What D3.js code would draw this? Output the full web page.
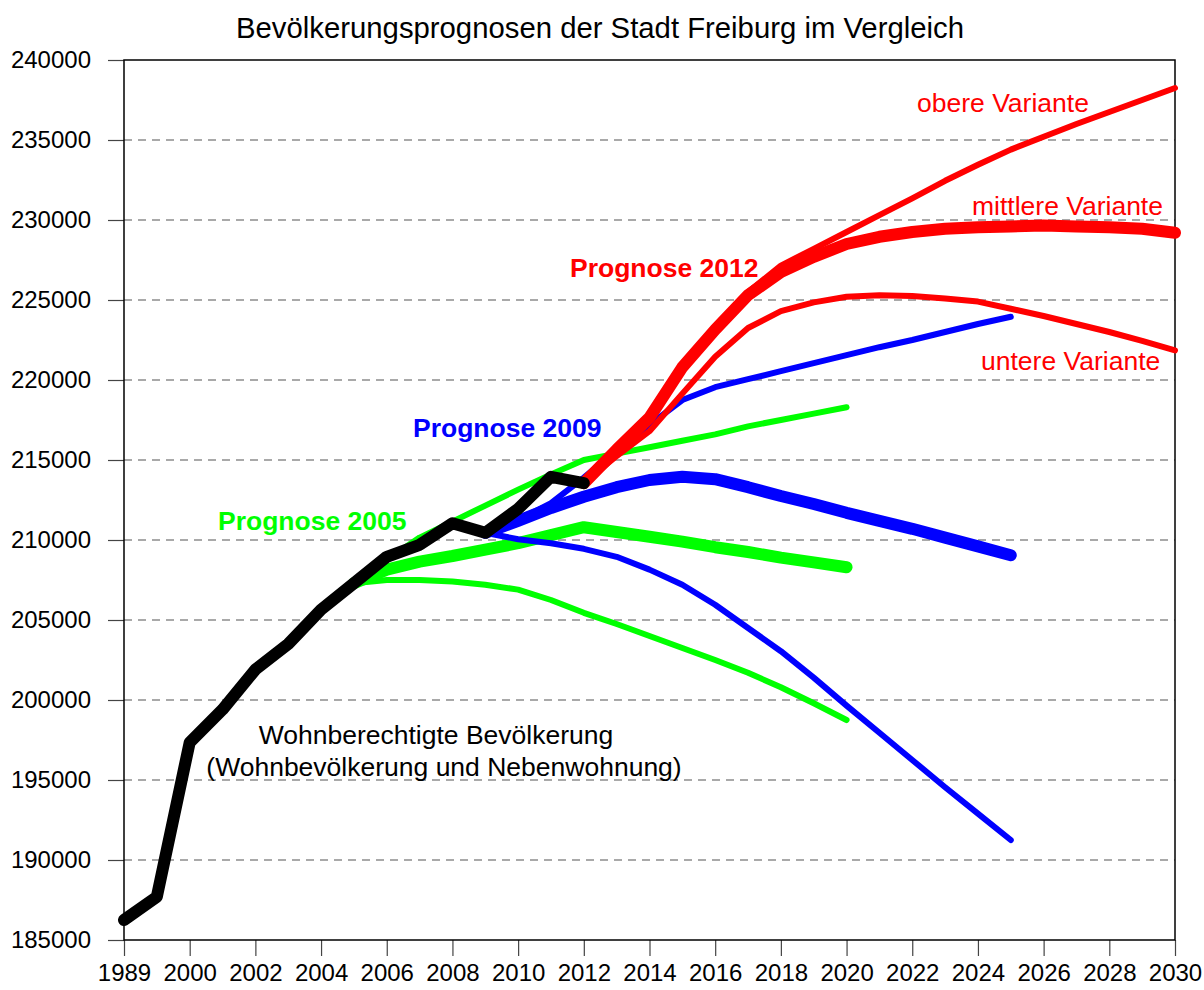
<!DOCTYPE html>
<html>
<head>
<meta charset="utf-8">
<script src="https://cdn.jsdelivr.net/npm/d3@7"></script>
<style>
  body { margin: 0; background: #fff; }
  svg { display: block; font-family: "Liberation Sans", Arial, sans-serif; }
  .grid line { stroke: #555; stroke-width: 1.2; stroke-dasharray: 8 6; }
  .axis text { font-size: 24px; fill: #000; }
  .axis path { display: none; }
  .axis line { stroke: #444; stroke-width: 1.2; }
</style>
</head>
<body>
<div class="chart"></div>
<script>
// Categories on the x axis (1999 is squeezed in right after 1989).
const years = ["1989", "1999", "2000", "2001", "2002", "2003", "2004", "2005", "2006",
  "2007", "2008", "2009", "2010", "2011", "2012", "2013", "2014", "2015", "2016",
  "2017", "2018", "2019", "2020", "2021", "2022", "2023", "2024", "2025", "2026",
  "2027", "2028", "2029", "2030"];
const tickYears = ["1989", "2000", "2002", "2004", "2006", "2008", "2010", "2012", "2014",
  "2016", "2018", "2020", "2022", "2024", "2026", "2028", "2030"];
const yTicks = [185000, 190000, 195000, 200000, 205000, 210000, 215000, 220000,
  225000, 230000, 235000, 240000];

// Wohnberechtigte Bevölkerung, 1989, 1999, 2000 ... 2012
const actual = [186250, 187700, 197350, 199400, 201900, 203500, 205650, 207300, 208950,
  209700, 211050, 210450, 211950, 213950, 213550];

// Prognose 2005, 2005 ... 2020
const p05Upper = [207300, 208750, 210150, 211150, 212150, 213150, 214100, 215000, 215400,
  215800, 216200, 216600, 217100, 217500, 217900, 218300];
const p05Mid = [207300, 208150, 208650, 209000, 209400, 209800, 210300, 210800, 210500,
  210200, 209900, 209550, 209250, 208900, 208600, 208300];
const p05Low = [207300, 207500, 207500, 207400, 207200, 206900, 206250, 205450, 204750,
  204000, 203250, 202500, 201700, 200800, 199800, 198750];

// Prognose 2009, 2009 ... 2025
const p09Upper = [210450, 211250, 212300, 213900, 215600, 217200, 218750, 219550, 220050,
  220550, 221050, 221550, 222050, 222500, 223000, 223500, 223950];
const p09Mid = [210450, 211200, 212000, 212700, 213300, 213750, 213950, 213800, 213300,
  212750, 212250, 211700, 211200, 210700, 210150, 209600, 209050];
const p09Low = [210450, 210050, 209800, 209450, 208950, 208150, 207200, 205950, 204500,
  203050, 201400, 199650, 197950, 196250, 194550, 192900, 191250];

// Prognose 2012, 2012 ... 2030
const p12Upper = [213550, 215800, 217750, 220750, 223250, 225500, 227150, 228200, 229250,
  230300, 231350, 232450, 233450, 234400, 235200, 236000, 236750, 237500, 238250];
const p12Mid = [213550, 215650, 217650, 220800, 223150, 225300, 226750, 227700, 228500,
  228950, 229250, 229450, 229550, 229600, 229650, 229600, 229550, 229450, 229200];
const p12Low = [213550, 215250, 216800, 219150, 221450, 223250, 224300, 224850, 225200,
  225300, 225250, 225100, 224900, 224450, 224000, 223500, 223000, 222450, 221850];

// Build series: values start at a given category.
function series(start, values) {
    let i0 = years.indexOf(start);
    return values.map((v, i) => ({ year: years[i0 + i], value: v }));
}

const lines = [
    { data: series("2005", p05Low), color: "#00ff00", width: 6 },
    { data: series("2005", p05Upper), color: "#00ff00", width: 6 },
    { data: series("2005", p05Mid), color: "#00ff00", width: 12 },
    { data: series("2009", p09Low), color: "#0000ff", width: 6 },
    { data: series("2009", p09Upper), color: "#0000ff", width: 6 },
    { data: series("2009", p09Mid), color: "#0000ff", width: 12 },
    { data: series("2012", p12Low), color: "#ff0000", width: 6 },
    { data: series("2012", p12Upper), color: "#ff0000", width: 6 },
    { data: series("2012", p12Mid), color: "#ff0000", width: 12 },
    { data: [{ year: "1989", value: actual[0] }].concat(series("1999", actual.slice(1))), color: "#000", width: 12 }
];

// Build constants.
const width = 1204,
      height = 990,
      plot = { left: 124, right: 1175, top: 60, bottom: 940 };

const svg = d3.select('.chart')
    .append('svg')
    .attr('width', width)
    .attr('height', height);

const x = d3.scalePoint()
    .domain(years)
    .range([plot.left, plot.right]);

const y = d3.scaleLinear()
    .domain([185000, 240000])
    .range([plot.bottom, plot.top]);

// Grid lines.
svg.append('g')
    .attr('class', 'grid')
    .selectAll('line')
    .data(yTicks.slice(1, -1))
    .join('line')
        .attr('x1', plot.left)
        .attr('x2', plot.right)
        .attr('y1', d => y(d))
        .attr('y2', d => y(d));

// Axes.
svg.append('g')
    .attr('class', 'axis')
    .attr('transform', `translate(${plot.left},0)`)
    .call(d3.axisLeft(y).tickValues(yTicks).tickFormat(d3.format('d')).tickSize(16).tickPadding(17));

svg.append('g')
    .attr('class', 'axis')
    .attr('transform', `translate(0,${plot.bottom})`)
    .call(d3.axisBottom(x).tickValues(tickYears).tickSize(16).tickPadding(8));

// Frame.
svg.append('rect')
    .attr('x', plot.left)
    .attr('y', plot.top)
    .attr('width', plot.right - plot.left)
    .attr('height', plot.bottom - plot.top)
    .attr('fill', 'none')
    .attr('stroke', '#000')
    .attr('stroke-width', 1.5);

// Lines.
const line = d3.line()
    .x(d => x(d.year))
    .y(d => y(d.value));

svg.append('g')
    .selectAll('path')
    .data(lines)
    .join('path')
        .attr('d', d => line(d.data))
        .attr('fill', 'none')
        .attr('stroke', d => d.color)
        .attr('stroke-width', d => d.width)
        .attr('stroke-linecap', 'round')
        .attr('stroke-linejoin', 'round');

// Title & labels.
svg.append('text')
    .attr('x', 600)
    .attr('y', 38)
    .attr('text-anchor', 'middle')
    .attr('font-size', 29.3)
    .text('Bevölkerungsprognosen der Stadt Freiburg im Vergleich');

const labels = [
    { text: 'Prognose 2005', x: 218, y: 530, color: '#00ff00', bold: true },
    { text: 'Prognose 2009', x: 413, y: 437, color: '#0000ff', bold: true },
    { text: 'Prognose 2012', x: 570, y: 277, color: '#ff0000', bold: true },
    { text: 'obere Variante', x: 917, y: 112, color: '#ff0000' },
    { text: 'mittlere Variante', x: 972, y: 215, color: '#ff0000' },
    { text: 'untere Variante', x: 981, y: 370, color: '#ff0000' }
];

svg.append('g')
    .selectAll('text')
    .data(labels)
    .join('text')
        .attr('x', d => d.x)
        .attr('y', d => d.y)
        .attr('fill', d => d.color)
        .attr('font-size', 26.5)
        .attr('font-weight', d => d.bold ? 'bold' : 'normal')
        .text(d => d.text);

svg.append('text')
    .attr('x', 436)
    .attr('y', 744)
    .attr('text-anchor', 'middle')
    .attr('font-size', 26.5)
    .text('Wohnberechtigte Bevölkerung');

svg.append('text')
    .attr('x', 444)
    .attr('y', 776)
    .attr('text-anchor', 'middle')
    .attr('font-size', 26.5)
    .text('(Wohnbevölkerung und Nebenwohnung)');
</script>
</body>
</html>
